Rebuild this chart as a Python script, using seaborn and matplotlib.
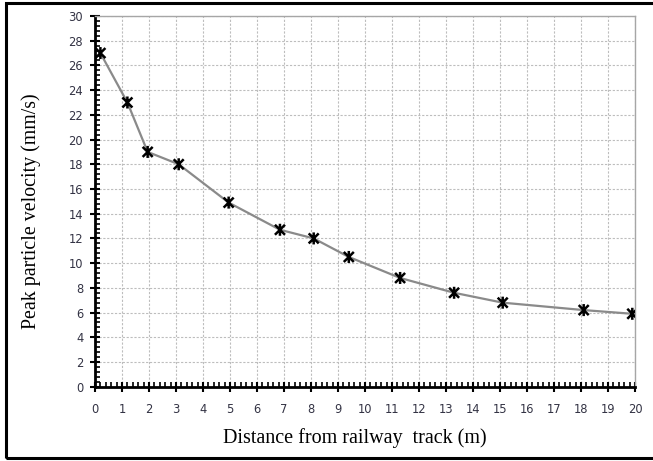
import numpy as np
import pandas as pd
import matplotlib
matplotlib.use("Agg")
import matplotlib.pyplot as plt
from matplotlib.path import Path
from matplotlib.patches import Rectangle
from matplotlib.ticker import MultipleLocator
import seaborn as sns

# Measured peak particle velocity versus distance from the track
distance_m = [0.2, 1.2, 1.95, 3.1, 4.95, 6.85, 8.1, 9.4, 11.3, 13.3, 15.1, 18.1, 19.9]
ppv_mm_s = [27.0, 23.0, 19.0, 18.0, 14.9, 12.7, 12.0, 10.5, 8.8, 7.6, 6.8, 6.2, 5.9]

df = pd.DataFrame({"distance": distance_m, "ppv": ppv_mm_s})

sns.set_theme(style="white")
plt.rcParams["font.family"] = ["DejaVu Sans"]

fig = plt.figure(figsize=(6.53, 4.61), dpi=100)
ax = fig.add_axes([95 / 653, 1 - 386.7 / 461, 540 / 653, 370.7 / 461])

# star marker: an X crossed with a vertical bar
star = Path(
    [(-1, -1), (1, 1), (-1, 1), (1, -1), (0, -1.2), (0, 1.2)],
    [Path.MOVETO, Path.LINETO, Path.MOVETO, Path.LINETO, Path.MOVETO, Path.LINETO],
)

sns.lineplot(data=df, x="distance", y="ppv", ax=ax, color="#8a8a8a",
             linewidth=1.6, zorder=3)
sns.scatterplot(data=df, x="distance", y="ppv", ax=ax, marker=star, s=75,
                facecolor="none", edgecolor="black", linewidth=1.8, zorder=4)

ax.set_xlim(0, 20)
ax.set_ylim(0, 30)
ax.xaxis.set_major_locator(MultipleLocator(1))
ax.xaxis.set_minor_locator(MultipleLocator(0.2))
ax.yaxis.set_major_locator(MultipleLocator(2))
ax.yaxis.set_minor_locator(MultipleLocator(0.4))

ax.grid(True, which="major", color="#bdbdbd", linestyle=(0, (2, 1.5)), linewidth=0.8)
ax.set_axisbelow(True)

for side in ("top", "right"):
    ax.spines[side].set_color("#a6a6a6")
    ax.spines[side].set_linewidth(1.0)
for side in ("left", "bottom"):
    ax.spines[side].set_color("black")
    ax.spines[side].set_linewidth(2.0)

ax.tick_params(axis="both", which="major", direction="inout", length=7, width=1.5,
               color="black", labelsize=8.3, labelcolor="#333344", pad=5)
ax.tick_params(axis="both", which="minor", direction="in", length=3.5, width=1.2,
               color="black")
ax.tick_params(axis="x", which="both", bottom=True, top=False)
ax.tick_params(axis="y", which="both", left=True, right=False)
ax.tick_params(axis="x", which="major", pad=8)

ax.set_xlabel("Distance from railway  track (m)", family="Liberation Serif",
              fontsize=14.5, color="black", va="center")
ax.set_ylabel("Peak particle velocity (mm/s)", family="Liberation Serif",
              fontsize=14.3, color="black", va="center")
ax.xaxis.set_label_coords(0.481, -0.138)
ax.yaxis.set_label_coords(-0.1185, 0.474)

# outer frame around the chart
fig.patches.append(Rectangle((6 / 653, 3 / 461), 1.05, 455 / 461,
                             transform=fig.transFigure, fill=False,
                             edgecolor="black", linewidth=2.2, zorder=10))

fig.savefig("out.png", dpi=100)
